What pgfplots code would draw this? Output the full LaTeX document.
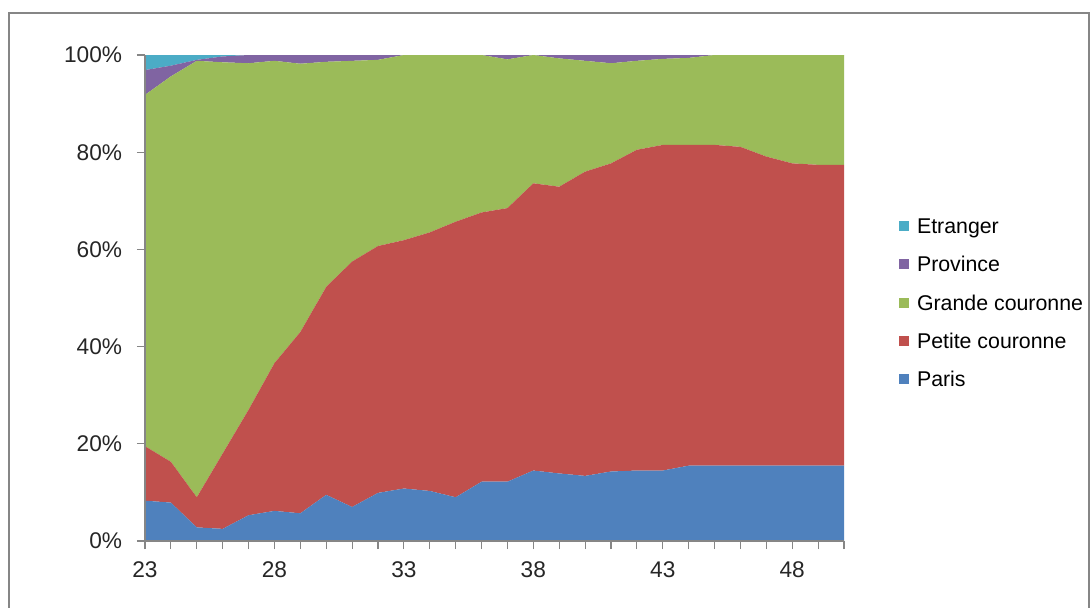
\documentclass[border=0pt]{standalone}
\usepackage{fontspec}
\setmainfont{Liberation Sans}
\usepackage{pgfplots}
\pgfplotsset{compat=1.18}
\usepackage{pgfplotstable}
\definecolor{cParis}{HTML}{4F81BD}
\definecolor{cPetite}{HTML}{C0504D}
\definecolor{cGrande}{HTML}{9BBB59}
\definecolor{cProvince}{HTML}{8064A2}
\definecolor{cEtranger}{HTML}{4BACC6}
\definecolor{axisgray}{HTML}{868686}
\pgfplotstableread{
x Paris Petite Grande Province Etranger
23 8.3 11.2 72.3 5.1 3.1
24 7.9 8.4 79.3 2.2 2.2
25 2.8 6.2 89.8 0.2 1.0
26 2.5 15.5 80.5 1.2 0.3
27 5.3 21.7 71.3 1.7 0
28 6.2 30.4 62.2 1.2 0
29 5.7 37.3 55.2 1.8 0
30 9.5 42.8 46.3 1.4 0
31 7.0 50.5 41.3 1.2 0
32 9.9 50.8 38.3 1.0 0
33 10.8 51.1 38.1 0 0
34 10.3 53.2 36.5 0 0
35 9.0 56.7 34.3 0 0
36 12.2 55.4 32.4 0 0
37 12.2 56.3 30.6 0.9 0
38 14.5 59.1 26.4 0 0
39 13.9 59.0 26.4 0.7 0
40 13.4 62.6 22.8 1.2 0
41 14.3 63.4 20.6 1.7 0
42 14.5 66.0 18.3 1.2 0
43 14.5 67.0 17.7 0.8 0
44 15.5 66.0 17.9 0.6 0
45 15.5 66.0 18.5 0 0
46 15.5 65.6 18.9 0 0
47 15.5 63.6 20.9 0 0
48 15.5 62.2 22.3 0 0
49 15.5 61.9 22.6 0 0
50 15.5 61.9 22.6 0 0
}\datatable
\begin{document}
\begin{tikzpicture}
\useasboundingbox (0,0) rectangle (818.25pt,-455.25pt);
\draw[color=axisgray, line width=1.2pt] (6.75pt,-9.75pt) rectangle (816.75pt,-470pt);
\begin{axis}[
  at={(108.75pt,-405.75pt)}, anchor=south west,
  scale only axis, width=524.25pt, height=364.5pt,
  xmin=23, xmax=50, ymin=0, ymax=100,
  stack plots=y, area style,
  axis lines*=left,
  axis line style={draw=axisgray, line width=0.9pt},
  axis on top,
  tick align=outside,
  major tick length=6pt, minor tick length=6pt,
  tick style={draw=axisgray, line width=0.9pt},
  xtick={23,28,...,48},
  minor xtick={23,...,50},
  ytick={0,20,40,60,80,100},
  yticklabels={0\%,20\%,40\%,60\%,80\%,100\%},
  ticklabel style={font=\fontsize{17}{20}\selectfont, text=black!85},
  xticklabel style={inner sep=0pt, anchor=north, yshift=-9pt},
  yticklabel style={inner sep=0pt, anchor=east, xshift=-11pt},
  /pgf/number format/assume math mode=true,
  legend cell align=left,
  reverse legend,
  legend style={at={(1.0787,0.664)}, anchor=north west, draw=none, fill=none,
    inner sep=0pt, outer sep=0pt, row sep=17.2pt,
    font=\fontsize{16}{19}\selectfont,
    nodes={inner sep=0pt, text height=11.5pt, text depth=0pt},
    /tikz/every odd column/.append style={column sep=6pt}},
  legend image code/.code={\fill[#1] (0pt,-3.75pt) rectangle (7.5pt,3.75pt);},
]
\addplot[fill=cParis, draw=none] table[x=x,y=Paris]{\datatable} \closedcycle;
\addplot[fill=cPetite, draw=none] table[x=x,y=Petite]{\datatable} \closedcycle;
\addplot[fill=cGrande, draw=none] table[x=x,y=Grande]{\datatable} \closedcycle;
\addplot[fill=cProvince, draw=none] table[x=x,y=Province]{\datatable} \closedcycle;
\addplot[fill=cEtranger, draw=none] table[x=x,y=Etranger]{\datatable} \closedcycle;
\legend{Paris, Petite couronne, Grande couronne, Province, Etranger}
\end{axis}
\end{tikzpicture}
\end{document}
